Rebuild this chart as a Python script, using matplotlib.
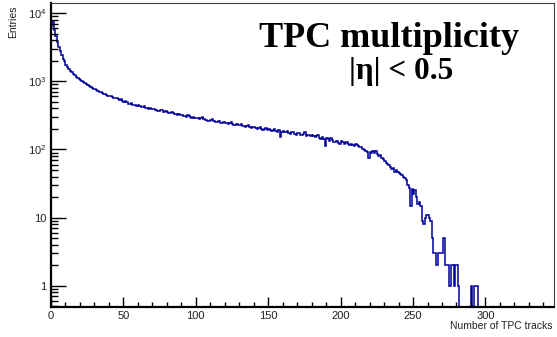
import numpy as np
import matplotlib
matplotlib.use("Agg")
import matplotlib.pyplot as plt
from matplotlib.ticker import FixedLocator, FixedFormatter, LogLocator, MultipleLocator, NullFormatter

# entries per bin (bin width 1 track)
counts = [
    6500, 7400, 5600, 4600, 3800, 3200, 2800, 2400, 2150, 1950,
    1750, 1620, 1500, 1420, 1350, 1280, 1230, 1170, 1120, 1080,
    1050, 1010, 960, 930, 900, 880, 850, 820, 800, 780,
    760, 735, 720, 700, 690, 670, 650, 640, 630, 615,
    600, 605, 585, 570, 575, 560, 545, 530, 540, 515,
    500, 505, 490, 470, 465, 475, 455, 445, 450, 440,
    445, 430, 420, 425, 435, 410, 400, 395, 405, 390,
    385, 395, 380, 370, 365, 380, 372, 355, 350, 360,
    352, 345, 340, 355, 338, 325, 330, 320, 335, 318,
    320, 312, 305, 300, 315, 308, 295, 290, 298, 285,
    292, 288, 278, 285, 295, 275, 268, 272, 265, 262,
    270, 275, 260, 255, 250, 258, 262, 245, 240, 250,
    248, 242, 235, 240, 255, 238, 230, 228, 232, 225,
    230, 235, 222, 218, 212, 220, 226, 210, 205, 215,
    213, 208, 200, 205, 215, 202, 195, 198, 205, 192,
    200, 195, 188, 192, 198, 185, 180, 190, 152, 182,
    188, 182, 178, 185, 175, 170, 178, 182, 168, 165,
    176, 172, 165, 160, 170, 178, 158, 165, 160, 155,
    163, 158, 150, 155, 160, 148, 142, 150, 140, 112,
    148, 140, 135, 145, 138, 130, 128, 135, 125, 122,
    132, 128, 122, 125, 130, 120, 118, 122, 115, 112,
    120, 118, 112, 108, 110, 100, 98, 95, 92, 75,
    92, 88, 95, 90, 96, 85, 80, 82, 76, 72,
    68, 64, 62, 60, 56, 52, 54, 46, 50, 47,
    45, 44, 42, 40, 38, 36, 30, 27, 15, 26,
    22, 25, 20, 16, 17, 15, 9, 8, 10, 11,
    11, 10, 9, 5, 3, 3, 2, 3, 3, 3,
    3, 5, 2, 2, 2, 1, 2, 2, 1, 2,
    2, 1, 0, 0, 0, 0, 0, 0, 0, 0,
    1, 0, 1, 1, 1, 0, 0, 0, 0, 0,
]
y_tick_values = [1, 10, 100, 1000, 10000]
y_tick_labels = ["1", "10", r"$\mathdefault{10^{2}}$", r"$\mathdefault{10^{3}}$", r"$\mathdefault{10^{4}}$"]
x_ticks = [0, 50, 100, 150, 200, 250, 300]

plt.rcParams["font.family"] = ["Liberation Sans", "DejaVu Sans"]

W, H = 557, 337
fig = plt.figure(figsize=(W / 100, H / 100), dpi=100)
ax = fig.add_axes([51 / W, 30 / H, (553.5 - 51) / W, (307 - 3) / H])

vals = np.array(counts, dtype=float)
vals[vals <= 0] = 1e-3  # empty bins drop below the axis like ROOT does
edges = np.arange(len(vals) + 1)
ax.stairs(vals, edges, baseline=1e-3, color="#000099", linewidth=1.1)

ax.set_yscale("log")
ax.set_xlim(0, 347)
ax.set_ylim(0.49, 1.4e4)

ax.yaxis.set_major_locator(FixedLocator(y_tick_values))
ax.yaxis.set_major_formatter(FixedFormatter(y_tick_labels))
ax.yaxis.set_minor_locator(LogLocator(base=10, subs=np.arange(2, 10)))
ax.yaxis.set_minor_formatter(NullFormatter())
ax.xaxis.set_major_locator(FixedLocator(x_ticks))
ax.xaxis.set_minor_locator(MultipleLocator(10))

ax.tick_params(axis="both", which="both", direction="in", width=1.0, labelsize=8, colors="black")
ax.tick_params(axis="y", which="major", length=11, pad=3)
ax.tick_params(axis="y", which="minor", length=5)
ax.tick_params(axis="x", which="major", length=7, pad=3)
ax.tick_params(axis="x", which="minor", length=3.6)
for lab in ax.get_xticklabels() + ax.get_yticklabels():
    lab.set_color("#222222")

for s in ["left", "bottom"]:
    ax.spines[s].set_linewidth(1.6)
for s in ["top", "right"]:
    ax.spines[s].set_linewidth(0.8)
    ax.spines[s].set_color("#444444")

fig.text(553 / W, 1 - 326 / H, "Number of TPC tracks", ha="right", va="center", fontsize=7.5, color="#222222")
fig.text(13 / W, 1 - 5 / H, "Entries", ha="center", va="top", rotation=90, fontsize=7.5, color="#222222")

fig.text(389 / W, 1 - 47 / H, "TPC multiplicity", ha="center", va="baseline",
         fontsize=26, fontweight="bold", family=["Liberation Serif", "DejaVu Serif"])
fig.text(401 / W, 1 - 79 / H, "|\u03b7| < 0.5", ha="center", va="baseline",
         fontsize=22.5, fontweight="bold", family=["Liberation Serif", "DejaVu Serif"])

fig.savefig("out.png", dpi=100)
